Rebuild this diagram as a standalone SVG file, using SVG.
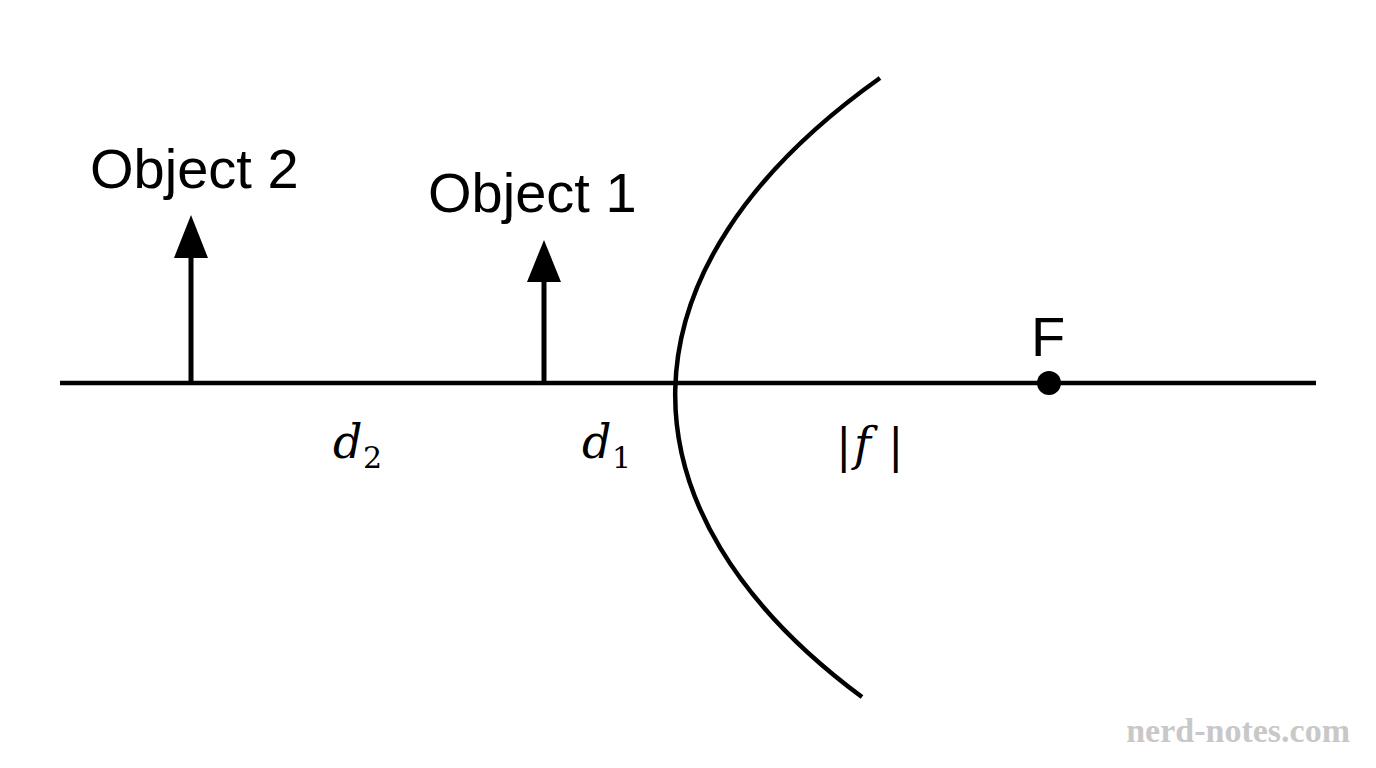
<svg xmlns="http://www.w3.org/2000/svg" width="1376" height="768" viewBox="0 0 1376 768">
<style>
.l{stroke:#000;stroke-width:4.5;fill:none}
.a{stroke:#000;stroke-width:5;fill:none}
.t{font-family:"Liberation Sans",Arial,sans-serif;font-size:56px;fill:#000}
.m{font-family:"DejaVu Serif","Liberation Serif",serif;font-style:italic;font-size:46px;fill:#000}
.s{font-family:"DejaVu Serif","Liberation Serif",serif;font-size:30px;fill:#000}
</style>
<rect width="1376" height="768" fill="#fff"/>
<g id="connectors">
<line class="l" x1="60" y1="383" x2="1316" y2="383"/>
<line class="a" x1="191" y1="383" x2="191" y2="250"/>
<polygon points="191,215 208,258 174,258" fill="#000"/>
<line class="a" x1="544" y1="383" x2="544" y2="275"/>
<polygon points="544,240 561,282 527,282" fill="#000"/>
</g>
<g id="mirror"><path class="l" d="M880,78 C610,270 610,510 862,697"/></g>
<g id="object2"><text class="t" x="90" y="188">Object 2</text></g>
<g id="object1"><text class="t" x="428" y="212">Object 1</text></g>
<g id="focus"><circle cx="1049" cy="383" r="12" fill="#000"/><text class="t" x="1031" y="356">F</text></g>
<g id="labels">
<text class="m" x="333" y="458">d</text><text class="s" x="363" y="468">2</text>
<text class="m" x="582" y="458">d</text><text class="s" x="612" y="468">1</text>
<text class="m" x="836" y="462" font-style="normal">|</text><text class="m" x="854" y="460">f</text><text class="m" x="888" y="462" font-style="normal">|</text>
</g>
<text x="1350" y="742" text-anchor="end" font-family="Liberation Serif,serif" font-weight="bold" font-size="34" fill="#c8c8c8">nerd-notes.com</text>
</svg>
